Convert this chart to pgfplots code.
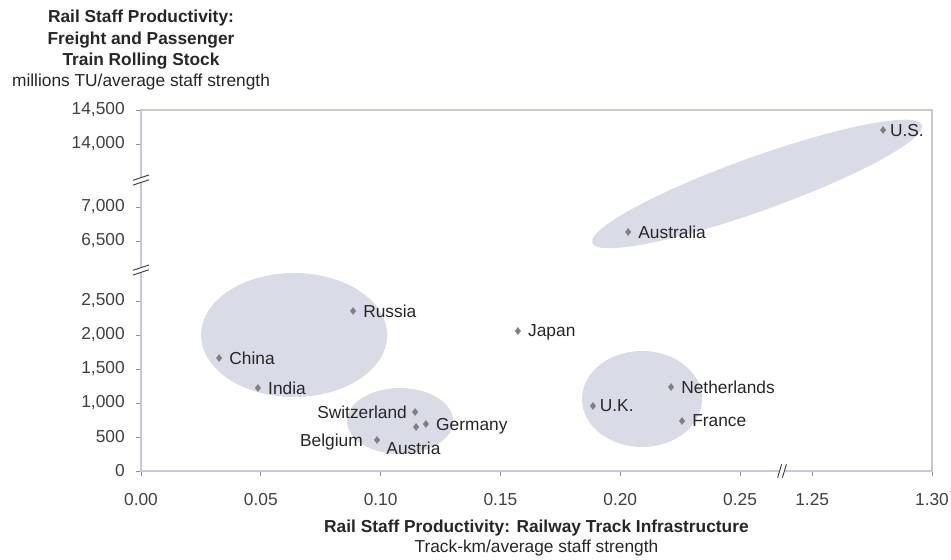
\documentclass[border=0pt]{standalone}
\usepackage{pgfplots}
\pgfplotsset{compat=1.18}
\usepackage{pgfplotstable}
\usepackage{fontspec}
\setmainfont{Liberation Sans}

\definecolor{ellcol}{HTML}{D9DCE6}
\definecolor{framecol}{HTML}{C5C9D6}
\definecolor{markcol}{HTML}{808080}
\definecolor{txtcol}{HTML}{262626}
\definecolor{tickcol}{HTML}{404040}

% real values; x > 1 and y > 5000 lie beyond the axis breaks
% labels to the right
\pgfplotstableread{
x      y     name
0.2033 6633  Australia
0.0885 2353  Russia
0.1573 2059  Japan
0.0326 1662  China
0.0488 1221  India
0.1189 691   Germany
0.2212 1235  Netherlands
0.2258 735   France
}\rightlab
% labels close on the right
\pgfplotstableread{
x      y     name
1.2796 14206 U.S.
0.1886 956   U.K.
}\nearlab
\pgfplotstableread{
x      y     name
0.1144 868   Switzerland
}\swiss
\pgfplotstableread{
x      y     name
0.0985 456   Belgium
}\belg
\pgfplotstableread{
x      y     name
0.1148 647   Austria
}\aust

\pgfplotsset{
  pt/.style n args={3}{only marks, mark=diamond*, mark size=2.6pt, color=markcol,
    point meta=explicit symbolic, nodes near coords,
    nodes near coords style={font=\fontsize{13}{15}\selectfont, text=txtcol, inner sep=0pt,
      text depth=0pt, anchor=#1, xshift=#2, yshift=#3},
    x filter/.expression={x>1 ? x-0.9699 : x},
    y filter/.expression={y>10000 ? y-9191 : (y>5000 ? y-3118 : y)}},
}

\begin{document}
\begin{tikzpicture}
\useasboundingbox (-105.75pt,-66.75pt) rectangle (607.5pt,353.25pt);
\begin{axis}[
  scale only axis,
  width=593.25pt, height=270.75pt,
  xmin=0, xmax=0.3301,
  ymin=0, ymax=5309,
  clip=false,
  axis line style={draw=framecol, line width=0.9pt},
  tick style={draw=framecol!70!black, line width=0.6pt},
  tick align=outside,
  major tick length=3.75pt,
  xtick pos=bottom, ytick pos=left,
  xtick={0,0.05,0.10,0.15,0.20,0.25,0.2801,0.3301},
  xticklabels={0.00,0.05,0.10,0.15,0.20,0.25,1.25,1.30},
  ytick={0,500,1000,1500,2000,2500,3382,3882,4809,5309},
  yticklabels={0,500,{1,000},{1,500},{2,000},{2,500},{6,500},{7,000},{14,000},{14,500}},
  xticklabel style={font=\fontsize{13}{15}\selectfont, text=tickcol, inner sep=0pt, anchor=north, yshift=-12.75pt},
  yticklabel style={font=\fontsize{13}{15}\selectfont, text=tickcol, inner sep=0pt, anchor=east, xshift=-8.25pt},
  /pgf/number format/assume math mode=true,
]
% groups
\fill[ellcol] (axis cs:0.0639,2000) ellipse [x radius=69.75pt, y radius=46.5pt];
\fill[ellcol] (axis cs:0.1081,735) ellipse [x radius=39.75pt, y radius=24.75pt];
\fill[ellcol] (axis cs:0.2091,1059) ellipse [x radius=45pt, y radius=36pt];
\fill[ellcol, rotate around={19.7:(axis cs:0.2571,4221)}] (axis cs:0.2571,4221) ellipse [x radius=131.25pt, y radius=20.25pt];

\addplot[pt={west}{7.5pt}{0pt}] table[x=x, y=y, meta=name] {\rightlab};
\addplot[pt={west}{5pt}{0pt}] table[x=x, y=y, meta=name] {\nearlab};
\addplot[pt={east}{-6pt}{0pt}] table[x=x, y=y, meta=name] {\swiss};
\addplot[pt={east}{-10.5pt}{0pt}] table[x=x, y=y, meta=name] {\belg};
\addplot[pt={north}{-2pt}{-11.25pt}] table[x=x, y=y, meta=name] {\aust};

% axis breaks
\draw[white, line width=3pt] ([shift={(-6pt,-2pt)}]axis cs:0,4279) -- ++(12pt,4pt);
\draw[tickcol, line width=0.7pt] ([shift={(-6pt,-3.8pt)}]axis cs:0,4279) -- ++(12pt,4pt);
\draw[tickcol, line width=0.7pt] ([shift={(-6pt,-0.2pt)}]axis cs:0,4279) -- ++(12pt,4pt);
\draw[white, line width=3pt] ([shift={(-6pt,-2pt)}]axis cs:0,2956) -- ++(12pt,4pt);
\draw[tickcol, line width=0.7pt] ([shift={(-6pt,-3.8pt)}]axis cs:0,2956) -- ++(12pt,4pt);
\draw[tickcol, line width=0.7pt] ([shift={(-6pt,-0.2pt)}]axis cs:0,2956) -- ++(12pt,4pt);
\draw[white, line width=3pt] ([shift={(-1.5pt,-5pt)}]axis cs:0.2675,0) -- ++(3pt,10pt);
\draw[tickcol, line width=0.7pt] ([shift={(-3.3pt,-5pt)}]axis cs:0.2675,0) -- ++(3pt,10pt);
\draw[tickcol, line width=0.7pt] ([shift={(0.3pt,-5pt)}]axis cs:0.2675,0) -- ++(3pt,10pt);
\end{axis}

% y title block, centred on the y axis
\begin{scope}[every node/.style={inner sep=0pt, anchor=base, text=txtcol, font=\fontsize{13}{15}\selectfont}]
\node at (0,336pt) {\bfseries Rail Staff Productivity:};
\node at (0,319.5pt) {\bfseries Freight and Passenger};
\node at (0,303.75pt) {\bfseries Train Rolling Stock};
\node at (0,288pt) {millions TU/average staff strength};
% x title block
\node at (296.6pt,-46.5pt) {\bfseries Rail Staff Productivity: Railway Track Infrastructure};
\node at (296.6pt,-61.5pt) {Track-km/average staff strength};
\end{scope}
\end{tikzpicture}
\end{document}
